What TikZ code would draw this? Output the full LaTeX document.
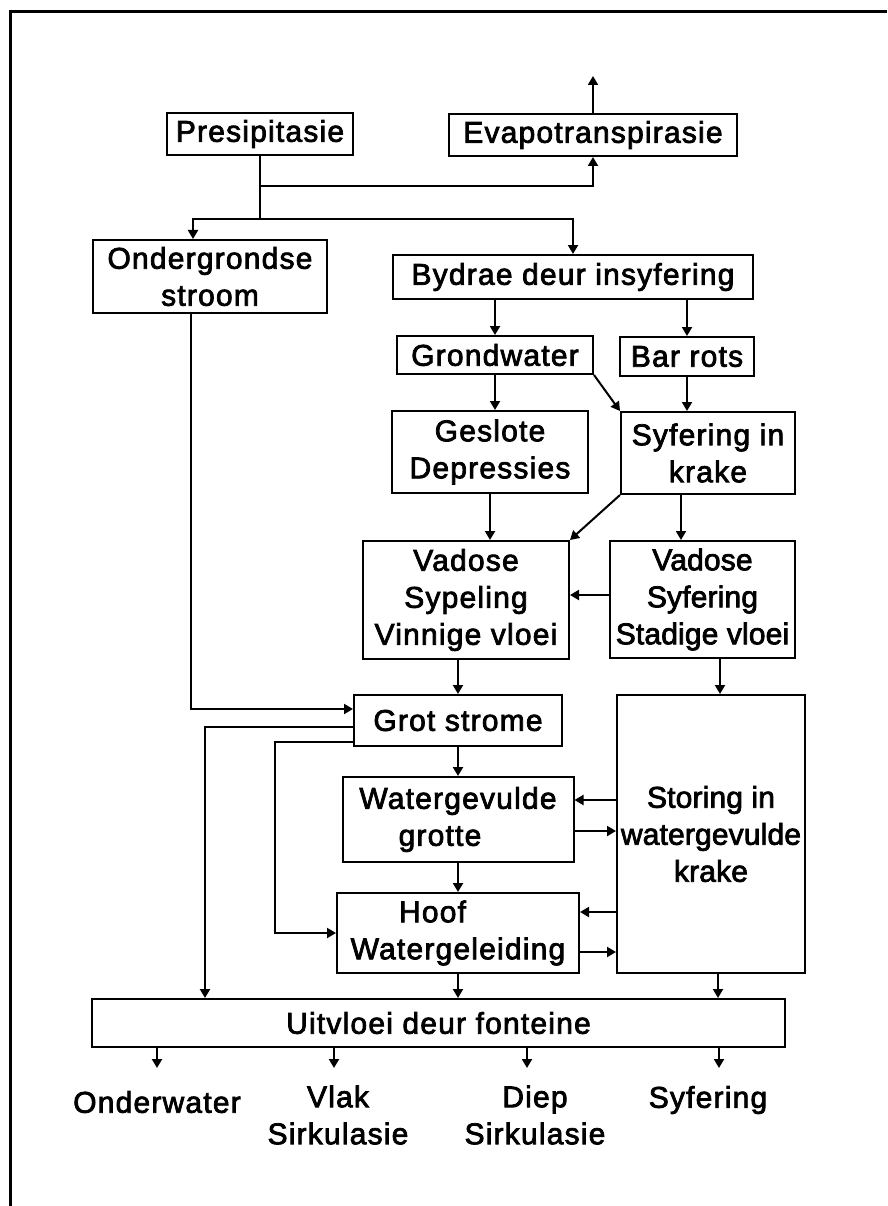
\documentclass[tikz,border=0pt]{standalone}
\usepackage{fontspec}
\setmainfont[LetterSpace=4,FakeBold=2.5]{Liberation Sans}
\usetikzlibrary{arrows.meta}

\begin{document}
\begin{tikzpicture}
  [x=1pt,y=-1pt,
  every node/.style={font=\fontsize{30}{37}\selectfont},
  blok/.style 2 args={draw=black,line width=2pt,inner sep=0pt,align=center,minimum width=#1pt,minimum height=#2pt},
  nou/.style={font=\fontsize{30}{37}\selectfont\addfontfeatures{LetterSpace=0.5}},
  etiket/.style={align=center},
  pyl/.style={-{Triangle[length=9pt,width=10pt]},line width=2pt},
  lyn/.style={line width=2pt}]

  \useasboundingbox (0,0) rectangle (887,1206);
  \draw [line width=3pt] (10,1206) -- (10,12) -- (887,12);

  \node (pres) [blok={186}{42}] at (260,134) {Presipitasie};
  \node (evap) [blok={288}{42}] at (593,135) {Evapotranspirasie};
  \node (onder) [blok={234}{73}] at (210,276.5) {Ondergrondse\\stroom};
  \node (bydrae) [blok={360}{44}] at (573,277) {Bydrae deur insyfering};
  \node (grond) [blok={196}{38}] at (495,355) {Grondwater};
  \node (bar) [blok={134}{39}] at (687,356.5) {Bar rots};
  \node (geslote) [blok={196}{82}] at (490,452) {Geslote\\Depressies};
  \node (syfk) [blok={174}{82}] at (708,453) {Syfering in\\krake};
  \node (vsyp) [blok={206}{118}] at (466,600) {Vadose\\Sypeling\\Vinnige vloei};
  \node (vsyf) [blok={185}{117},nou] at (702.5,599.5) {Vadose\\Syfering\\Stadige vloei};
  \node (grot) [blok={208}{51}] at (458,720.5) {Grot strome};
  \node (water) [blok={231}{85}] at (458,819.5) {Watergevulde\\grotte\hspace*{1.2em}};
  \node (storing) [blok={188}{278},nou] at (711,834) {Storing in\\watergevulde\\krake};
  \node (hoof) [blok={242}{80}] at (458,933) {Hoof\hspace*{1.7em}\\Watergeleiding};
  \node (uitvloei) [blok={693}{48}] at (438.5,1023) {Uitvloei deur fonteine};

  \node (onderw) [etiket] at (157,1102) {Onderwater};
  \node (vlak) [etiket] at (338,1115) {Vlak\\Sirkulasie};
  \node (diep) [etiket] at (535,1115) {Diep\\Sirkulasie};
  \node (syfer) [etiket] at (708,1100) {Syfering};

  \coordinate (j1) at (260,186);
  \coordinate (j2) at (260,219);
  \coordinate (bo) at (593,76);
  \coordinate (k2) at (275,933);
  \coordinate (u1) at (157,1068);
  \coordinate (u2) at (334,1068);
  \coordinate (u3) at (527,1068);
  \coordinate (u4) at (719,1068);

  \draw [lyn] (pres.south) -- (j2);
  \draw [pyl] (j1) -| (evap.south);
  \draw [pyl] (evap.north) -- (bo);
  \draw [pyl] (j2) -| ([xshift=-17pt]onder.north);
  \draw [pyl] (j2) -| (bydrae.north);

  \draw [pyl] (grond.north |- bydrae.south) -- (grond.north);
  \draw [pyl] (bar.north |- bydrae.south) -- (bar.north);
  \draw [pyl] (grond.south) -- (grond.south |- geslote.north);
  \draw [pyl] (grond.south east) -- (syfk.north west);
  \draw [pyl] (bar.south) -- (bar.south |- syfk.north);

  \draw [pyl] (geslote.south) -- (geslote.south |- vsyp.north);
  \draw [pyl] (syfk.south west) -- (vsyp.north east);
  \draw [pyl] ([xshift=-27pt]syfk.south) -- ([xshift=-27pt]syfk.south |- vsyf.north);
  \draw [pyl] ([yshift=4.5pt]vsyf.west) -- ([yshift=4.5pt]vsyf.west -| vsyp.east);

  \draw [pyl] (grot.north |- vsyp.south) -- (grot.north);
  \draw [pyl] ([xshift=17.5pt]vsyf.south) -- ([xshift=17.5pt]vsyf.south |- storing.north);
  \draw [pyl] ([xshift=-19pt]onder.south) |- ([yshift=11.5pt]grot.west);

  \draw [pyl] ([yshift=-6.5pt]grot.west) -| ([xshift=-233.5pt]uitvloei.north);
  \draw [pyl] ([yshift=-21.5pt]grot.west) -| (k2) -- (hoof.west);

  \draw [pyl] (grot.south) -- (water.north);
  \draw [pyl] (water.south) -- (hoof.north);
  \draw [pyl] ([yshift=19.5pt]water.east -| storing.west) -- ([yshift=19.5pt]water.east);
  \draw [pyl] ([yshift=-11.5pt]water.east) -- ([yshift=-11.5pt]water.east -| storing.west);
  \draw [pyl] ([yshift=21pt]hoof.east -| storing.west) -- ([yshift=21pt]hoof.east);
  \draw [pyl] ([yshift=-19pt]hoof.east) -- ([yshift=-19pt]hoof.east -| storing.west);

  \draw [pyl] (hoof.south) -- (hoof.south |- uitvloei.north);
  \draw [pyl] ([xshift=7pt]storing.south) -- ([xshift=7pt]storing.south |- uitvloei.north);

  \draw [pyl] (uitvloei.south -| u1) -- (u1);
  \draw [pyl] (uitvloei.south -| u2) -- (u2);
  \draw [pyl] (uitvloei.south -| u3) -- (u3);
  \draw [pyl] (uitvloei.south -| u4) -- (u4);

\end{tikzpicture}
\end{document}
